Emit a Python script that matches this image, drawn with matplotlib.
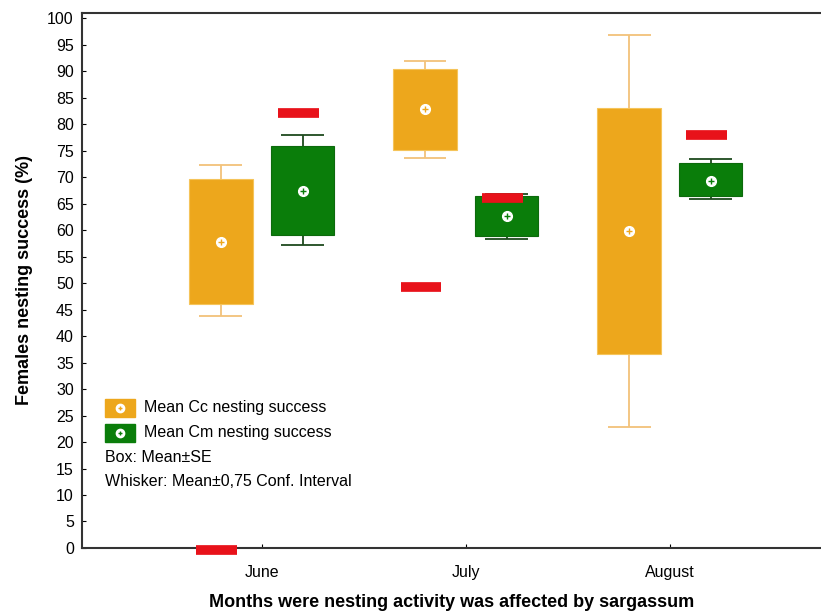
import numpy as np
import matplotlib.pyplot as plt
from matplotlib.patches import Rectangle

plt.rcParams['font.family'] = ['Liberation Sans', 'DejaVu Sans']

months = ['June', 'July', 'August']

# Cc (orange) - mean, SE box, whisker (0.75 CI)
cc_mean = [57.8, 82.9, 59.8]
cc_box_lo = [46.1, 75.1, 36.7]
cc_box_hi = [69.6, 90.4, 83.1]
cc_wh_lo = [43.7, 73.6, 22.8]
cc_wh_hi = [72.3, 91.9, 96.8]
cc_red = [-0.3, 49.3, None]

# Cm (green)
cm_mean = [67.4, 62.7, 69.3]
cm_box_lo = [59.0, 58.8, 66.4]
cm_box_hi = [75.9, 66.5, 72.6]
cm_wh_lo = [57.1, 58.4, 65.8]
cm_wh_hi = [78.0, 66.9, 73.4]
cm_red = [82.1, 66.1, 77.9]

orange = '#EDA71C'
green = '#0A7D0A'
red = '#E8121A'

fig = plt.figure(figsize=(8.21, 6.15), dpi=100)
ax = fig.add_axes([0.1, 0.109, 0.9, 0.87])

x = np.arange(len(months))
off = 0.2
bw = 0.31
cw = 0.21


def draw(pos, mean, blo, bhi, wlo, whi, reds, col, wcol, ecol):
    ax.vlines(pos, wlo, whi, color=wcol, lw=1.3, zorder=1)
    ax.hlines(wlo, pos - cw / 2, pos + cw / 2, color=wcol, lw=1.3, zorder=1)
    ax.hlines(whi, pos - cw / 2, pos + cw / 2, color=wcol, lw=1.3, zorder=1)
    ax.bar(pos, np.array(bhi) - np.array(blo), bottom=blo, width=bw,
           color=col, edgecolor=ecol, lw=0.8, zorder=2)
    ax.plot(pos, mean, 'o', ms=7, mfc='white', mec='white', zorder=3)
    ax.plot(pos, mean, '+', ms=4, mew=1, color=col, zorder=4)
    for p, r in zip(pos, reds):
        if r is not None:
            ax.hlines(r, p - 0.12, p + 0.08, color=red, lw=7, zorder=5, clip_on=False)


draw(x - off, cc_mean, cc_box_lo, cc_box_hi, cc_wh_lo, cc_wh_hi, cc_red,
     orange, '#F2C27A', '#F5C45A')
draw(x + off, cm_mean, cm_box_lo, cm_box_hi, cm_wh_lo, cm_wh_hi, cm_red,
     green, '#1E4A1E', '#0C6A0C')

ax.set_xlim(-0.88, 2.74)
ax.set_ylim(0, 101)
ax.set_yticks(np.arange(0, 101, 5))
ax.set_xticks(x)
ax.set_xticklabels(months)
ax.tick_params(axis='both', direction='in', length=3, labelsize=11.5, pad=6)
ax.tick_params(axis='x', pad=12)
ax.spines['right'].set_visible(False)
for s in ['left', 'bottom', 'top']:
    ax.spines[s].set_linewidth(1.5)
    ax.spines[s].set_color('#333333')

ax.set_ylabel('Females nesting success (%)', fontsize=13, fontweight='bold', labelpad=10)
ax.set_xlabel('Months were nesting activity was affected by sargassum',
              fontsize=13, fontweight='bold', labelpad=10)

# legend drawn by hand
tr = ax.transAxes
rows = [0.262, 0.215, 0.170, 0.125]
sq_x, sq_w, sq_h = 0.031, 0.041, 0.034
for r, col, lab in [(rows[0], orange, 'Mean Cc nesting success'),
                    (rows[1], green, 'Mean Cm nesting success')]:
    ax.add_patch(Rectangle((sq_x, r - sq_h / 2), sq_w, sq_h, transform=tr,
                           facecolor=col, edgecolor=col, zorder=6))
    ax.plot(sq_x + sq_w / 2, r, 'o', ms=6, mfc='white', mec='white', transform=tr, zorder=7)
    ax.plot(sq_x + sq_w / 2, r, '+', ms=3.5, mew=1, color=col, transform=tr, zorder=8)
    ax.text(0.084, r, lab, transform=tr, va='center', fontsize=11.5)
ax.text(sq_x, rows[2], 'Box: Mean\u00b1SE', transform=tr, va='center', fontsize=11.5)
ax.text(sq_x, rows[3], 'Whisker: Mean\u00b10,75 Conf. Interval', transform=tr,
        va='center', fontsize=11.5)

fig.savefig('out.png', dpi=100)
